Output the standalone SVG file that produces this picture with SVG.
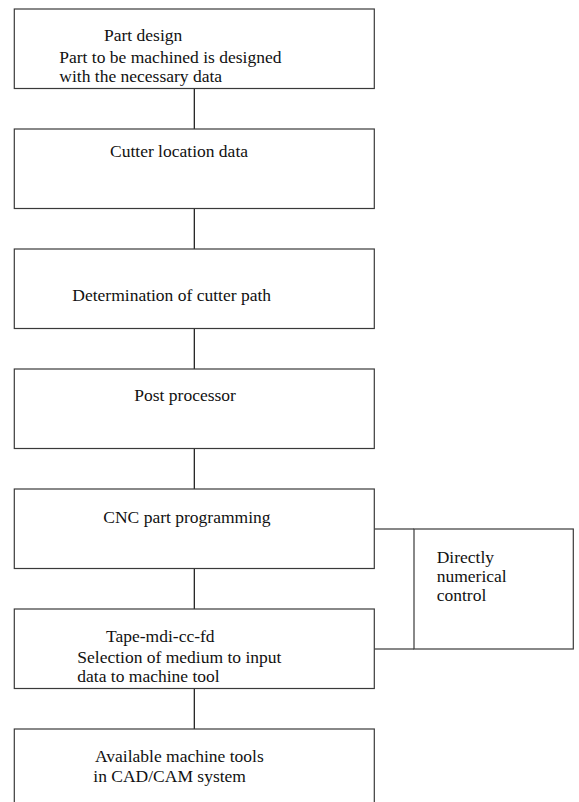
<svg xmlns="http://www.w3.org/2000/svg" width="579" height="802" viewBox="0 0 579 802">
<style>
.box{fill:#fff;stroke:#3a3a3a;stroke-width:1.2}
text{font-family:"Liberation Serif","Times New Roman",serif;font-size:17.5px;fill:#111}
.c{stroke:#111;stroke-width:1.2;fill:none}
</style>
<rect width="579" height="802" fill="#fff"/>
<g id="connectors">
<line class="c" x1="194.3" y1="88.5" x2="194.3" y2="129"/>
<line class="c" x1="194.3" y1="208.5" x2="194.3" y2="249"/>
<line class="c" x1="194.3" y1="328.5" x2="194.3" y2="369"/>
<line class="c" x1="194.3" y1="448.5" x2="194.3" y2="489"/>
<line class="c" x1="194.3" y1="568.5" x2="194.3" y2="609"/>
<line class="c" x1="194.3" y1="688.5" x2="194.3" y2="729"/>
<line class="c" x1="374.3" y1="529" x2="414" y2="529"/>
<line class="c" x1="374.3" y1="649" x2="414" y2="649"/>
</g>
<g id="n1"><rect class="box" x="14.3" y="9" width="360" height="79.5"/>
<text x="104" y="40.7">Part design</text>
<text x="59.3" y="63">Part to be machined is designed</text>
<text x="59.3" y="81.5">with the necessary data</text></g>
<g id="n2"><rect class="box" x="14.3" y="129" width="360" height="79.5"/>
<text x="110" y="156.7">Cutter location data</text></g>
<g id="n3"><rect class="box" x="14.3" y="249" width="360" height="79.5"/>
<text x="72.3" y="300.7">Determination of cutter path</text></g>
<g id="n4"><rect class="box" x="14.3" y="369" width="360" height="79.5"/>
<text x="134.3" y="400.7">Post processor</text></g>
<g id="n5"><rect class="box" x="14.3" y="489" width="360" height="79.5"/>
<text x="103.3" y="522.7">CNC part programming</text></g>
<g id="n6"><rect class="box" x="14.3" y="609" width="360" height="79.5"/>
<text x="106" y="642.3">Tape-mdi-cc-fd</text>
<text x="77.3" y="662.7">Selection of medium to input</text>
<text x="77.3" y="681.7">data to machine tool</text></g>
<g id="n7"><rect class="box" x="14.3" y="729" width="360" height="90"/>
<text x="95" y="762.3">Available machine tools</text>
<text x="93.3" y="782">in CAD/CAM system</text></g>
<g id="n8"><rect class="box" x="414" y="529" width="159.3" height="120"/>
<text x="436.7" y="563.3">Directly</text>
<text x="436.7" y="582">numerical</text>
<text x="436.7" y="600.7">control</text></g>
</svg>
